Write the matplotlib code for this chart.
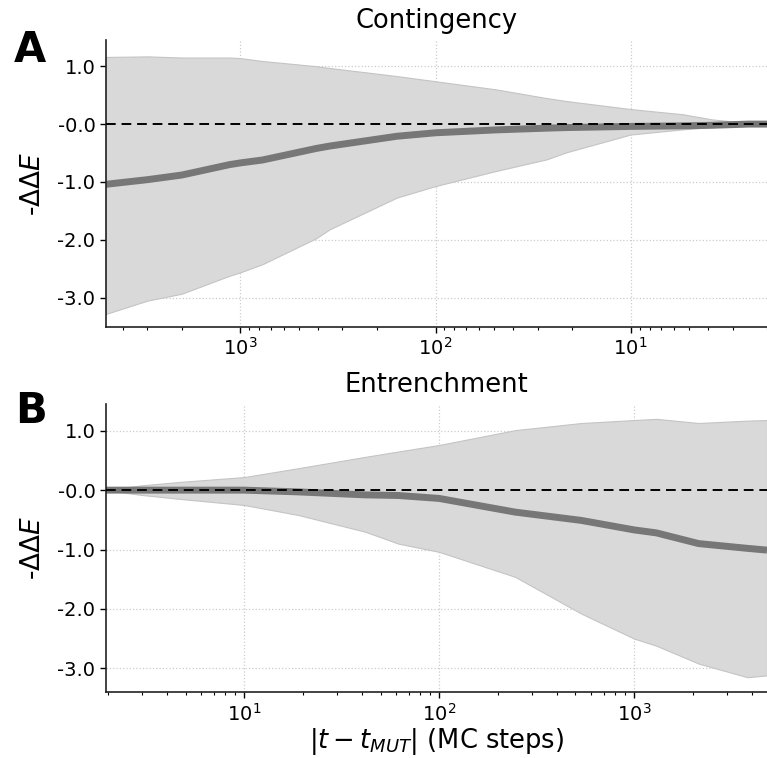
import numpy as np
import matplotlib
matplotlib.use('Agg')
import matplotlib.pyplot as plt

# Panel A: contingency (|t - t_MUT| before the mutation, axis reversed)
cont_x = [2, 2.5, 3.8, 5.4, 10, 21.5, 27, 49, 100, 158, 350, 408, 771, 1000, 1138, 2000, 3000, 4900]
cont_mean = [0.0, 0.0, -0.02, -0.03, -0.04, -0.06, -0.07, -0.10, -0.15, -0.21, -0.38, -0.42,
             -0.62, -0.67, -0.70, -0.88, -0.96, -1.04]
cont_upper = [0.0, 0.02, 0.08, 0.17, 0.26, 0.40, 0.45, 0.60, 0.74, 0.83, 0.97, 1.00,
              1.09, 1.14, 1.15, 1.15, 1.17, 1.16]
cont_lower = [0.0, -0.03, -0.05, -0.09, -0.18, -0.49, -0.61, -0.81, -1.07, -1.27, -1.82, -1.97,
              -2.42, -2.56, -2.62, -2.93, -3.05, -3.28]

# Panel B: entrenchment (|t - t_MUT| after the mutation)
entr_x = [1.95, 2.96, 4.75, 10, 19, 41.7, 61.6, 100, 245, 536, 1000, 1300, 2140, 3800, 4800]
entr_mean = [0.0, 0.0, 0.0, 0.0, -0.03, -0.08, -0.09, -0.14, -0.37, -0.51, -0.67, -0.72,
             -0.90, -0.98, -1.01]
entr_upper = [0.0, 0.08, 0.14, 0.22, 0.37, 0.56, 0.65, 0.76, 1.01, 1.13, 1.18, 1.20,
              1.13, 1.17, 1.18]
entr_lower = [0.0, -0.08, -0.15, -0.25, -0.42, -0.70, -0.90, -1.04, -1.46, -2.08, -2.50, -2.62,
              -2.92, -3.15, -3.12]

ytick_vals = [1.0, 0.0, -1.0, -2.0, -3.0]
ytick_labels = ['1.0', '-0.0', '-1.0', '-2.0', '-3.0']

fig = plt.figure(figsize=(7.67, 7.58), dpi=100)
ax_a = fig.add_axes([0.138, 0.569, 0.862, 0.378])
ax_b = fig.add_axes([0.138, 0.087, 0.862, 0.380])


def draw_panel(ax, x, mean, lower, upper, title, xlim, ylim):
    ax.fill_between(x, lower, upper, color='#d9d9d9', edgecolor='#c4c4c4',
                    linewidth=0.8, zorder=1)
    ax.plot(x, mean, color='#777777', linewidth=5, solid_capstyle='butt', zorder=2)
    ax.axhline(0, color='black', linestyle='--', linewidth=1.4, dashes=(5, 3), zorder=3)
    ax.set_xscale('log')
    ax.set_xlim(*xlim)
    ax.set_ylim(*ylim)
    ax.set_yticks(ytick_vals)
    ax.set_yticklabels(ytick_labels)
    ax.tick_params(axis='both', which='major', labelsize=14, length=4, width=1)
    ax.tick_params(axis='x', which='minor', length=2.5, width=0.8)
    ax.grid(True, which='major', color='#cccccc', linestyle=':', linewidth=0.9)
    ax.set_axisbelow(True)
    for side in ['top', 'right']:
        ax.spines[side].set_visible(False)
    for side in ['left', 'bottom']:
        ax.spines[side].set_linewidth(1.2)
        ax.spines[side].set_color('#222222')
    ax.set_ylabel(r'-$\Delta\Delta E$', fontsize=19, labelpad=8)
    ax.set_title(title, fontsize=18.5, pad=9)


draw_panel(ax_a, cont_x, cont_mean, cont_lower, cont_upper, 'Contingency',
           (4900, 2.0), (-3.5, 1.45))
draw_panel(ax_b, entr_x, entr_mean, entr_lower, entr_upper, 'Entrenchment',
           (1.95, 4800), (-3.4, 1.45))

ax_b.set_xlabel(r'$|t - t_{MUT}|$ (MC steps)', fontsize=18.5, labelpad=1)

fig.text(0.018, 0.918, 'A', fontsize=30, fontweight='bold', va='baseline')
fig.text(0.020, 0.442, 'B', fontsize=30, fontweight='bold', va='baseline')

fig.savefig('out.png', dpi=100)
